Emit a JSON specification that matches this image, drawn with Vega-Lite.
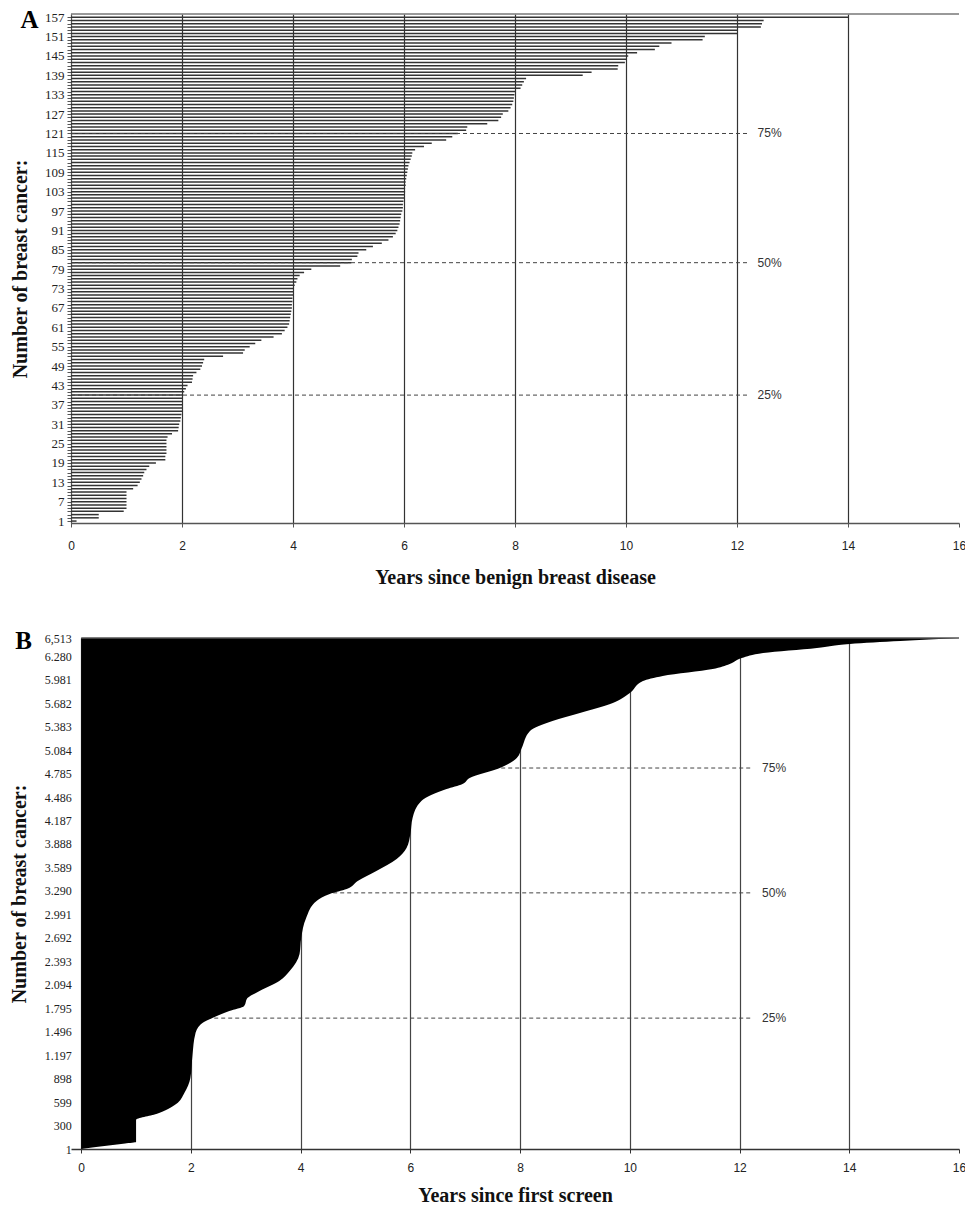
{
  "$schema": "https://vega.github.io/schema/vega-lite/v6.json",
  "padding": {"left": 9, "top": 8, "right": 0, "bottom": 0},
  "background": "white",
  "config": {"view": {"stroke": null}, "font": "Liberation Serif"},
  "datasets": {
    "a": [
      {"case":1,"years":0.1},{"case":2,"years":0.5},{"case":3,"years":0.5},{"case":4,"years":0.95},{"case":5,"years":1.0},
      {"case":6,"years":1.0},{"case":7,"years":1.0},{"case":8,"years":1.0},{"case":9,"years":1.0},{"case":10,"years":1.0},
      {"case":11,"years":1.12},{"case":12,"years":1.2},{"case":13,"years":1.24},{"case":14,"years":1.27},{"case":15,"years":1.3},
      {"case":16,"years":1.32},{"case":17,"years":1.36},{"case":18,"years":1.41},{"case":19,"years":1.53},{"case":20,"years":1.7},
      {"case":21,"years":1.7},{"case":22,"years":1.72},{"case":23,"years":1.72},{"case":24,"years":1.72},{"case":25,"years":1.72},
      {"case":26,"years":1.72},{"case":27,"years":1.74},{"case":28,"years":1.82},{"case":29,"years":1.93},{"case":30,"years":1.94},
      {"case":31,"years":1.95},{"case":32,"years":1.97},{"case":33,"years":1.98},{"case":34,"years":1.99},{"case":35,"years":2.0},
      {"case":36,"years":2.0},{"case":37,"years":2.0},{"case":38,"years":2.0},{"case":39,"years":2.01},{"case":40,"years":2.02},
      {"case":41,"years":2.04},{"case":42,"years":2.07},{"case":43,"years":2.1},{"case":44,"years":2.18},{"case":45,"years":2.19},
      {"case":46,"years":2.2},{"case":47,"years":2.26},{"case":48,"years":2.33},{"case":49,"years":2.36},{"case":50,"years":2.38},
      {"case":51,"years":2.4},{"case":52,"years":2.74},{"case":53,"years":3.1},{"case":54,"years":3.13},{"case":55,"years":3.22},
      {"case":56,"years":3.32},{"case":57,"years":3.43},{"case":58,"years":3.65},{"case":59,"years":3.8},{"case":60,"years":3.85},
      {"case":61,"years":3.9},{"case":62,"years":3.93},{"case":63,"years":3.94},{"case":64,"years":3.95},{"case":65,"years":3.96},
      {"case":66,"years":3.97},{"case":67,"years":3.98},{"case":68,"years":3.98},{"case":69,"years":3.99},{"case":70,"years":3.99},
      {"case":71,"years":4.0},{"case":72,"years":4.0},{"case":73,"years":4.01},{"case":74,"years":4.03},{"case":75,"years":4.06},
      {"case":76,"years":4.08},{"case":77,"years":4.12},{"case":78,"years":4.2},{"case":79,"years":4.33},{"case":80,"years":4.85},
      {"case":81,"years":5.05},{"case":82,"years":5.06},{"case":83,"years":5.16},{"case":84,"years":5.18},{"case":85,"years":5.32},
      {"case":86,"years":5.44},{"case":87,"years":5.6},{"case":88,"years":5.72},{"case":89,"years":5.8},{"case":90,"years":5.85},
      {"case":91,"years":5.88},{"case":92,"years":5.9},{"case":93,"years":5.92},{"case":94,"years":5.93},{"case":95,"years":5.94},
      {"case":96,"years":5.95},{"case":97,"years":5.97},{"case":98,"years":5.98},{"case":99,"years":5.98},{"case":100,"years":5.99},
      {"case":101,"years":6.0},{"case":102,"years":6.01},{"case":103,"years":6.02},{"case":104,"years":6.02},{"case":105,"years":6.03},
      {"case":106,"years":6.03},{"case":107,"years":6.04},{"case":108,"years":6.05},{"case":109,"years":6.06},{"case":110,"years":6.07},
      {"case":111,"years":6.08},{"case":112,"years":6.1},{"case":113,"years":6.12},{"case":114,"years":6.14},{"case":115,"years":6.15},
      {"case":116,"years":6.2},{"case":117,"years":6.36},{"case":118,"years":6.5},{"case":119,"years":6.76},{"case":120,"years":6.87},
      {"case":121,"years":6.97},{"case":122,"years":7.12},{"case":123,"years":7.14},{"case":124,"years":7.5},{"case":125,"years":7.7},
      {"case":126,"years":7.75},{"case":127,"years":7.78},{"case":128,"years":7.88},{"case":129,"years":7.92},{"case":130,"years":7.95},
      {"case":131,"years":7.97},{"case":132,"years":7.98},{"case":133,"years":7.99},{"case":134,"years":8.0},{"case":135,"years":8.1},
      {"case":136,"years":8.13},{"case":137,"years":8.16},{"case":138,"years":8.2},{"case":139,"years":9.22},{"case":140,"years":9.38},
      {"case":141,"years":9.85},{"case":142,"years":9.86},{"case":143,"years":9.98},{"case":144,"years":10.0},{"case":145,"years":10.04},
      {"case":146,"years":10.2},{"case":147,"years":10.52},{"case":148,"years":10.6},{"case":149,"years":10.82},{"case":150,"years":11.38},
      {"case":151,"years":11.42},{"case":152,"years":12.0},{"case":153,"years":12.0},{"case":154,"years":12.43},{"case":155,"years":12.45},
      {"case":156,"years":12.48},{"case":157,"years":14.0}
    ],
    "b": [
      {"case":1,"years":0.0},{"case":20,"years":0.2},{"case":45,"years":0.5},{"case":70,"years":0.8},{"case":89,"years":1.0},
      {"case":370,"years":1.0},{"case":446,"years":1.37},{"case":573,"years":1.73},{"case":714,"years":1.88},{"case":905,"years":1.99},
      {"case":1210,"years":2.03},{"case":1466,"years":2.08},{"case":1606,"years":2.21},{"case":1670,"years":2.39},{"case":1759,"years":2.7},
      {"case":1823,"years":2.97},{"case":1924,"years":3.03},{"case":2013,"years":3.25},{"case":2141,"years":3.61},{"case":2268,"years":3.8},
      {"case":2485,"years":3.98},{"case":2689,"years":4.01},{"case":2944,"years":4.1},{"case":3160,"years":4.29},{"case":3250,"years":4.53},
      {"case":3313,"years":4.84},{"case":3415,"years":5.04},{"case":3543,"years":5.38},{"case":3696,"years":5.75},{"case":3836,"years":5.93},
      {"case":4014,"years":6.0},{"case":4218,"years":6.04},{"case":4435,"years":6.2},{"case":4588,"years":6.66},{"case":4652,"years":6.95},
      {"case":4728,"years":7.08},{"case":4856,"years":7.63},{"case":4983,"years":7.94},{"case":5110,"years":8.03},{"case":5327,"years":8.18},
      {"case":5454,"years":8.59},{"case":5556,"years":9.09},{"case":5684,"years":9.69},{"case":5811,"years":10.0},{"case":5964,"years":10.24},
      {"case":6028,"years":10.6},{"case":6117,"years":11.51},{"case":6181,"years":11.82},{"case":6257,"years":12.04},{"case":6321,"years":12.43},
      {"case":6385,"years":13.41},{"case":6436,"years":14.01},{"case":6474,"years":14.93},{"case":6513,"years":16.0}
    ],
    "qa": [{"case":40,"label":"25%"},{"case":81,"label":"50%"},{"case":121,"label":"75%"}],
    "qb": [{"case":1669,"label":"25%"},{"case":3265,"label":"50%"},{"case":4856,"label":"75%"}]
  },
  "vconcat": [
    {
      "width": 888,
      "height": 509,
      "title": {"text": "A", "anchor": "start", "frame": "bounds", "fontSize": 25, "font": "Liberation Serif", "fontWeight": "bold", "color": "#000", "baseline": "top", "offset": 0, "dx": 10, "dy": 22},
      "layer": [
        {
          "data": {"name": "a"},
          "mark": {"type": "rule", "strokeWidth": 1.5, "color": "#333"},
          "encoding": {
            "y": {"field": "case", "type": "quantitative", "scale": {"domain": [0.4, 158], "nice": false, "zero": false},
              "axis": {"title": "Number of breast cancer:", "values": [1,2,3,4,5,6,7,8,9,10,11,12,13,14,15,16,17,18,19,20,21,22,23,24,25,26,27,28,29,30,31,32,33,34,35,36,37,38,39,40,41,42,43,44,45,46,47,48,49,50,51,52,53,54,55,56,57,58,59,60,61,62,63,64,65,66,67,68,69,70,71,72,73,74,75,76,77,78,79,80,81,82,83,84,85,86,87,88,89,90,91,92,93,94,95,96,97,98,99,100,101,102,103,104,105,106,107,108,109,110,111,112,113,114,115,116,117,118,119,120,121,122,123,124,125,126,127,128,129,130,131,132,133,134,135,136,137,138,139,140,141,142,143,144,145,146,147,148,149,150,151,152,153,154,155,156,157],
                "tickCount": 1000, "format": "d",
                "labelExpr": "(datum.value - 1) % 6 == 0 ? datum.label : ''", "labelOverlap": false, "grid": false,
                "tickSize": 4, "tickColor": "#555", "domainColor": "#555", "labelPadding": 3,
                "labelFont": "Liberation Serif", "labelFontSize": 13, "labelColor": "#222",
                "titleFont": "Liberation Serif", "titleFontSize": 20, "titleFontWeight": "bold", "titleColor": "#111", "titlePadding": 14}},
            "x": {"field": "years", "type": "quantitative", "scale": {"domain": [0, 16], "nice": false},
              "axis": {"title": "Years since benign breast disease", "values": [0,2,4,6,8,10,12,14,16], "tickCount": 100, "format": "d", "grid": true,
                "gridColor": {"condition": {"test": "datum.value >= 16", "value": "transparent"}, "value": "#333"}, "gridWidth": 1.2,
                "tickSize": 4, "tickColor": "#555", "domainColor": "#555", "domainWidth": 1.5, "labelPadding": 13, "labelFlush": false,
                "labelFont": "Liberation Sans", "labelFontSize": 12, "labelColor": "#222",
                "titleFont": "Liberation Serif", "titleFontSize": 20, "titleFontWeight": "bold", "titleColor": "#111", "titlePadding": 16}},
            "x2": {"datum": 0}
          }
        },
        {
          "data": {"values": [{}]},
          "mark": {"type": "rule", "color": "#777", "strokeWidth": 1.5},
          "encoding": {"y": {"datum": 158, "type": "quantitative"}, "x": {"datum": 0, "type": "quantitative"}, "x2": {"datum": 16}}
        },
        {
          "data": {"name": "qa"},
          "mark": {"type": "rule", "color": "#444", "strokeWidth": 1, "strokeDash": [4, 3]},
          "encoding": {"y": {"field": "case", "type": "quantitative"}, "x": {"datum": 0, "type": "quantitative"}, "x2": {"datum": 12.2}}
        },
        {
          "data": {"name": "qa"},
          "mark": {"type": "text", "align": "left", "baseline": "middle", "font": "Liberation Sans", "fontSize": 12, "color": "#333"},
          "encoding": {"y": {"field": "case", "type": "quantitative"}, "x": {"datum": 12.37, "type": "quantitative"}, "text": {"field": "label", "type": "nominal"}}
        }
      ]
    },
    {
      "width": 888,
      "height": 511,
      "title": {"text": "B", "anchor": "start", "frame": "bounds", "fontSize": 25, "font": "Liberation Serif", "fontWeight": "bold", "color": "#000", "baseline": "top", "offset": 0, "dx": 6, "dy": 22},
      "layer": [
        {
          "data": {"name": "qb"},
          "mark": {"type": "rule", "color": "#444", "strokeWidth": 1, "strokeDash": [4, 3]},
          "encoding": {"y": {"field": "case", "type": "quantitative"}, "x": {"datum": 0, "type": "quantitative"}, "x2": {"datum": 12.24}}
        },
        {
          "data": {"name": "b"},
          "mark": {"type": "area", "orient": "horizontal", "color": "#000", "interpolate": "monotone"},
          "encoding": {
            "y": {"field": "case", "type": "quantitative", "scale": {"domain": [1, 6513], "nice": false, "zero": false},
              "axis": {"title": "Number of breast cancer:", "values": [1,300,599,898,1197,1496,1795,2094,2393,2692,2991,3290,3589,3888,4187,4486,4785,5084,5383,5682,5981,6280,6513],
                "tickCount": 1000, "offset": -10.2,
                "labelExpr": "datum.value == 6513 ? '6,513' : replace(format(datum.value, ','), ',', '.')", "labelOverlap": false, "grid": false,
                "ticks": false, "domainColor": "#333", "labelPadding": 10,
                "labelFont": "Liberation Serif", "labelFontSize": 12, "labelColor": "#222",
                "titleFont": "Liberation Serif", "titleFontSize": 20, "titleFontWeight": "bold", "titleColor": "#111", "titlePadding": 15}},
            "x": {"field": "years", "type": "quantitative", "stack": null, "scale": {"domain": [-0.186, 16], "nice": false, "zero": false},
              "axis": {"title": "Years since first screen", "values": [0,2,4,6,8,10,12,14,16], "tickCount": 100, "format": "d", "grid": true,
                "gridColor": {"condition": {"test": "datum.value >= 16", "value": "transparent"}, "value": "#444"}, "gridWidth": 1.2,
                "tickSize": 4, "tickColor": "#333", "domainColor": "#333", "domainWidth": 1.5, "labelPadding": 9, "labelFlush": false,
                "labelFont": "Liberation Sans", "labelFontSize": 12, "labelColor": "#222",
                "titleFont": "Liberation Serif", "titleFontSize": 20, "titleFontWeight": "bold", "titleColor": "#111", "titlePadding": 12}}
          }
        },
        {
          "data": {"values": [{}]},
          "mark": {"type": "rule", "color": "#555", "strokeWidth": 1.5},
          "encoding": {"y": {"datum": 6513, "type": "quantitative"}, "x": {"datum": 0, "type": "quantitative"}, "x2": {"datum": 16}}
        },
        {
          "data": {"name": "qb"},
          "mark": {"type": "text", "align": "left", "baseline": "middle", "font": "Liberation Sans", "fontSize": 12, "color": "#333"},
          "encoding": {"y": {"field": "case", "type": "quantitative"}, "x": {"datum": 12.41, "type": "quantitative"}, "text": {"field": "label", "type": "nominal"}}
        }
      ]
    }
  ],
  "spacing": 42
}
